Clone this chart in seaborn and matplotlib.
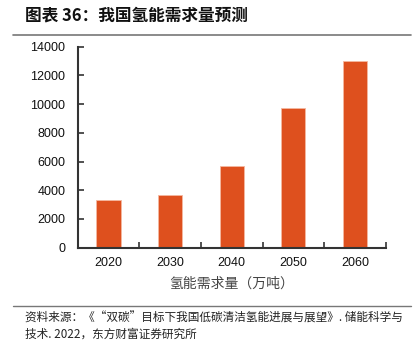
import matplotlib
matplotlib.use("Agg")
import matplotlib.pyplot as plt
import seaborn as sns
import pandas as pd
from matplotlib.lines import Line2D

years = ["2020", "2030", "2040", "2050", "2060"]
demand = [3300, 3700, 5700, 9700, 13000]
yticks = [0, 2000, 4000, 6000, 8000, 10000, 12000, 14000]
title = "图表 36：我国氢能需求量预测"
xlabel = "氢能需求量（万吨）"
source1 = "资料来源：《“双碳”目标下我国低碳清洁氢能进展与展望》. 储能科学与"
source2 = "技术. 2022，东方财富证券研究所"

sns.set_theme(style="white")
plt.rcParams['font.family'] = ['Liberation Sans', 'Noto Sans CJK SC', 'DejaVu Sans']
cjk = ['Noto Sans CJK SC', 'DejaVu Sans']

df = pd.DataFrame({"year": years, "demand": demand})

fig = plt.figure(figsize=(4.16, 3.44), dpi=100)
ax = fig.add_axes([77.7/416, 1-247.7/344, (385.7-77.7)/416, (247.7-46.7)/344])

sns.barplot(data=df, x="year", y="demand", ax=ax, color="#DE501E",
            width=0.39, edgecolor="#F4B8A0", linewidth=0.6, saturation=1)

ax.set_ylim(0, 14000)
ax.set_xlim(-0.5, 4.5)
ax.set_yticks(yticks)
ax.set_yticklabels([str(v) for v in yticks], fontsize=9, color="#111111")
ax.set_xticks(range(len(years)))
ax.set_xticklabels(years, fontsize=9, color="#111111")
ax.tick_params(axis='x', length=0, pad=7)
ax.tick_params(axis='y', direction='in', length=4, width=1.2, color="#333333", pad=9, left=True)
ax.set_xticks([0.5, 1.5, 2.5, 3.5, 4.5], minor=True)
ax.tick_params(axis='x', which='minor', direction='in', length=4, width=1.2, color="#333333", bottom=True)
ax.set_xlabel(xlabel, fontsize=10, family=cjk, color="#444444", labelpad=5)
ax.set_ylabel("")
for s in ["top", "right"]:
    ax.spines[s].set_visible(False)
for s in ["left", "bottom"]:
    ax.spines[s].set_color("#333333")
    ax.spines[s].set_linewidth(1.5)

fig.text(25/416, 1-15/344, title, fontsize=12, fontweight='bold', family=cjk,
         ha='left', va='center', color="#111111")
fig.add_artist(Line2D([13/416, 411/416], [1-35/344, 1-35/344], color="#777777", lw=1.2))
fig.add_artist(Line2D([13/416, 411/416], [1-305.7/344, 1-305.7/344], color="#777777", lw=1.0))
fig.text(25/416, 1-318/344, source1, fontsize=8.4, family=cjk, ha='left', va='center', color="#222222")
fig.text(25/416, 1-334/344, source2, fontsize=8.4, family=cjk, ha='left', va='center', color="#222222")

fig.savefig("out.png", dpi=100)
